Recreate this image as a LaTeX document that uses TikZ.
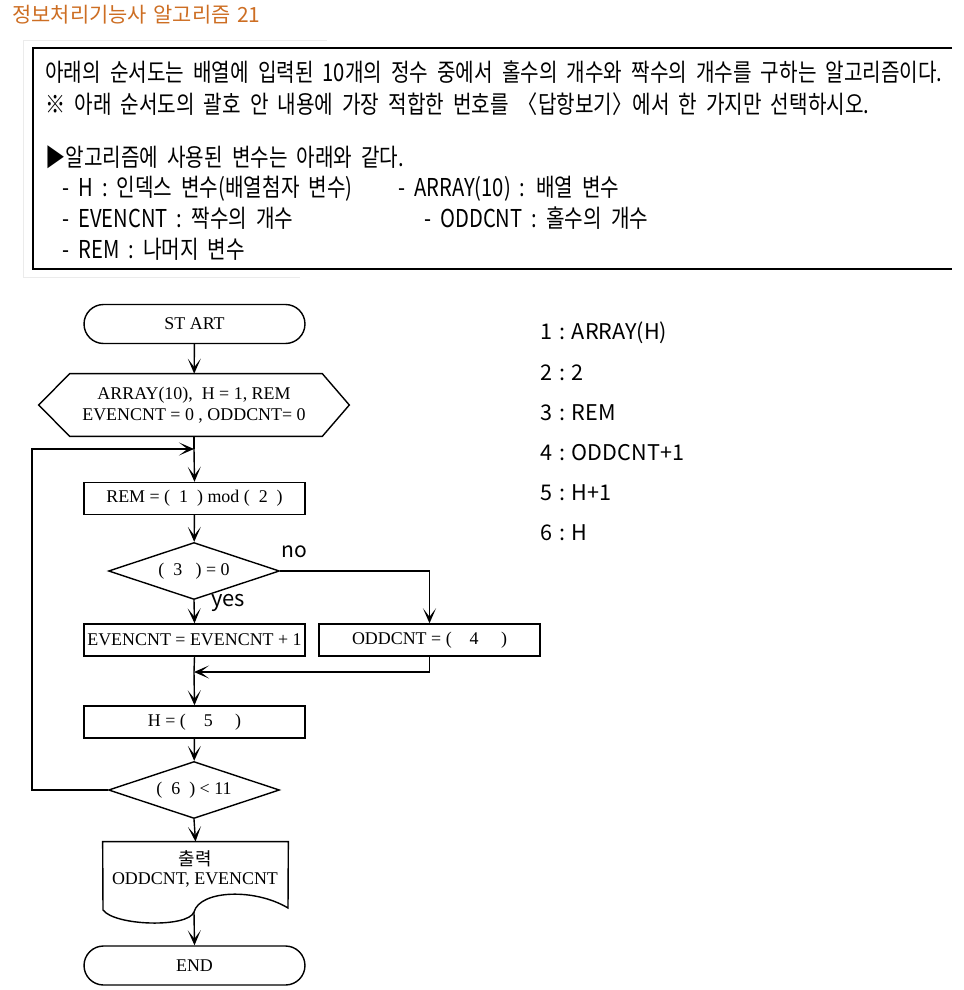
\documentclass[tikz,border=0pt]{standalone}
\usepackage{fontspec}
\setmainfont{Liberation Serif}
\newfontfamily\krfont{Noto Sans CJK KR}
\newfontfamily\krwide[WordSpace=1.4]{Noto Sans CJK KR}
\newfontfamily\krnarrow[FakeStretch=0.82,WordSpace=2]{Noto Sans CJK KR}
\usetikzlibrary{arrows.meta,shapes.geometric,positioning,calc}
\definecolor{titleorange}{RGB}{205,110,35}
\colorlet{framegray}{black!8}

\begin{document}
\begin{tikzpicture}[x=0.02cm,y=-0.02cm,
  >={Stealth[length=0.3cm,width=0.26cm,inset=0.17cm]},
  flow/.style={line width=0.8pt},
  term/.style={draw,flow,rounded corners=0.39cm,minimum width=4.42cm,minimum height=0.78cm,inner sep=0pt,font=\fontsize{10.2}{12}\selectfont},
  procbox/.style={draw,flow,minimum width=4.42cm,minimum height=0.64cm,inner sep=0pt,font=\fontsize{10.2}{12}\selectfont},
  decision/.style={draw,flow,diamond,aspect=3,minimum width=3.42cm,minimum height=1.14cm,inner sep=0pt,font=\fontsize{10.2}{12}\selectfont},
  boxtext/.style={anchor=west,inner sep=0pt,font=\krnarrow\fontsize{14}{16}\selectfont},
  anstext/.style={anchor=west,inner sep=0pt,font=\krwide\fontsize{12.3}{14}\selectfont}]
\useasboundingbox (0,0) rectangle (963,990);

% title
\node[anchor=west,inner sep=0pt,text=titleorange,font=\krfont\fontsize{11.9}{14}\selectfont] (title) at (12,15) {정보처리기능사 알고리즘 21};

% question frame
\draw[framegray] (23,277) -- (23,40) -- (327,40);
\draw[framegray] (23,277) -- (300,277);
\draw[line width=1.7pt] (952,48) -- (33,48) -- (33,269) -- (952,269);
\node[boxtext] (q1) at (45,72) {아래의 순서도는 배열에 입력된 10개의 정수 중에서 홀수의 개수와 짝수의 개수를 구하는 알고리즘이다.};
\node[boxtext] (q2) at (45,104) {※ 아래 순서도의 괄호 안 내용에 가장 적합한 번호를 〈답항보기〉에서 한 가지만 선택하시오.};
\node[boxtext] (v0) at (45,157) {▶알고리즘에 사용된 변수는 아래와 같다.};
\node[boxtext] (v1) at (62,189) {- H : 인덱스 변수(배열첨자 변수)};
\node[boxtext] (v2) at (398,189) {- ARRAY(10) : 배열 변수};
\node[boxtext] (v3) at (62,218) {- EVENCNT : 짝수의 개수};
\node[boxtext] (v4) at (424,218) {- ODDCNT : 홀수의 개수};
\node[boxtext] (v5) at (62,249) {- REM : 나머지 변수};

% flowchart
\node[term] (start) at (194.5,324) {ST ART};
\node[minimum width=6.2cm,minimum height=1.24cm,inner sep=0pt,align=center,font=\fontsize{10.2}{12}\selectfont] (prep) at (194,405) {ARRAY(10),\ \ H = 1, REM\\EVENCNT = 0 , ODDCNT= 0};
\draw[flow] (prep.west) -- ($(prep.north west)+(31,0)$) -- ($(prep.north east)+(-27,0)$) -- (prep.east)
  -- ($(prep.south east)+(-27,0)$) -- ($(prep.south west)+(31,0)$) -- cycle;
\coordinate (join1) at (194,449);
\node[procbox] (rem) at (194.5,498.5) {REM = (\ \ 1\ \ ) mod (\ \ 2\ \ )};
\node[decision] (chk) at (194,571) {(\ \ 3\ \ \ ) = 0};
\node[procbox] (even) at (194.5,640) {EVENCNT = EVENCNT + 1};
\node[procbox] (odd) at (429.5,640) {ODDCNT = (\quad 4\quad\ )};
\coordinate (join2) at (194,672);
\node[procbox] (hinc) at (194.5,722) {H = (\quad 5\quad\ )};
\node[decision] (loop) at (194,790) {(\ \ 6\ \ ) < 11};
\node[minimum width=3.7cm,minimum height=1.32cm,inner sep=0pt] (out) at (195.5,875) {};
\node[align=center,inner sep=0pt,font=\fontsize{10.2}{12}\selectfont] (outtxt) at (195,869) {{\krfont 출력}\\[-1pt]ODDCNT, EVENCNT};
\draw[flow] (out.north west) -- (out.north east) -- (288,908)
  .. controls (255,888) and (200,890) .. (194,912)
  .. controls (188,928) and (115,926) .. (103,910) -- cycle;
\coordinate (outbot) at (194,912);
\node[term] (end) at (194.5,965.5) {END};

% connectors
\draw[flow,->] (start) -- (prep);
\draw[flow] (prep.south) -- (join1);
\draw[flow,->] (join1) -- (rem.north);
\draw[flow,->] (rem) -- (chk);
\draw[flow,->] (chk.south) -- (even.north);
\draw[flow,->] (chk.east) -| (odd.north);
\draw[flow] (even.south) -- (join2);
\draw[flow,->] (odd.south) |- (join2);
\draw[flow,->] (join2) -- (hinc.north);
\draw[flow,->] (hinc) -- (loop);
\draw[flow,->] (loop.west) -- ++(-76,0) |- (join1);
\draw[flow,->] (loop.south) -- (out.north);
\draw[flow,->] (outbot) -- (end.north);
\node[anchor=west,inner sep=0pt,font=\krfont\fontsize{12}{14}\selectfont] (nolbl) at (281,552) {no};
\node[anchor=west,inner sep=0pt,font=\krfont\fontsize{12.5}{14}\selectfont] (yeslbl) at (211,603) {yes};

% answer choices
\foreach \i/\t in {1/ARRAY(H),2/2,3/REM,4/ODDCNT+1,5/H+1,6/H}
  \node[anstext] (ans\i) at (540,{333+40*(\i-1)}) {\i\ :\ \t};
\end{tikzpicture}
\end{document}
